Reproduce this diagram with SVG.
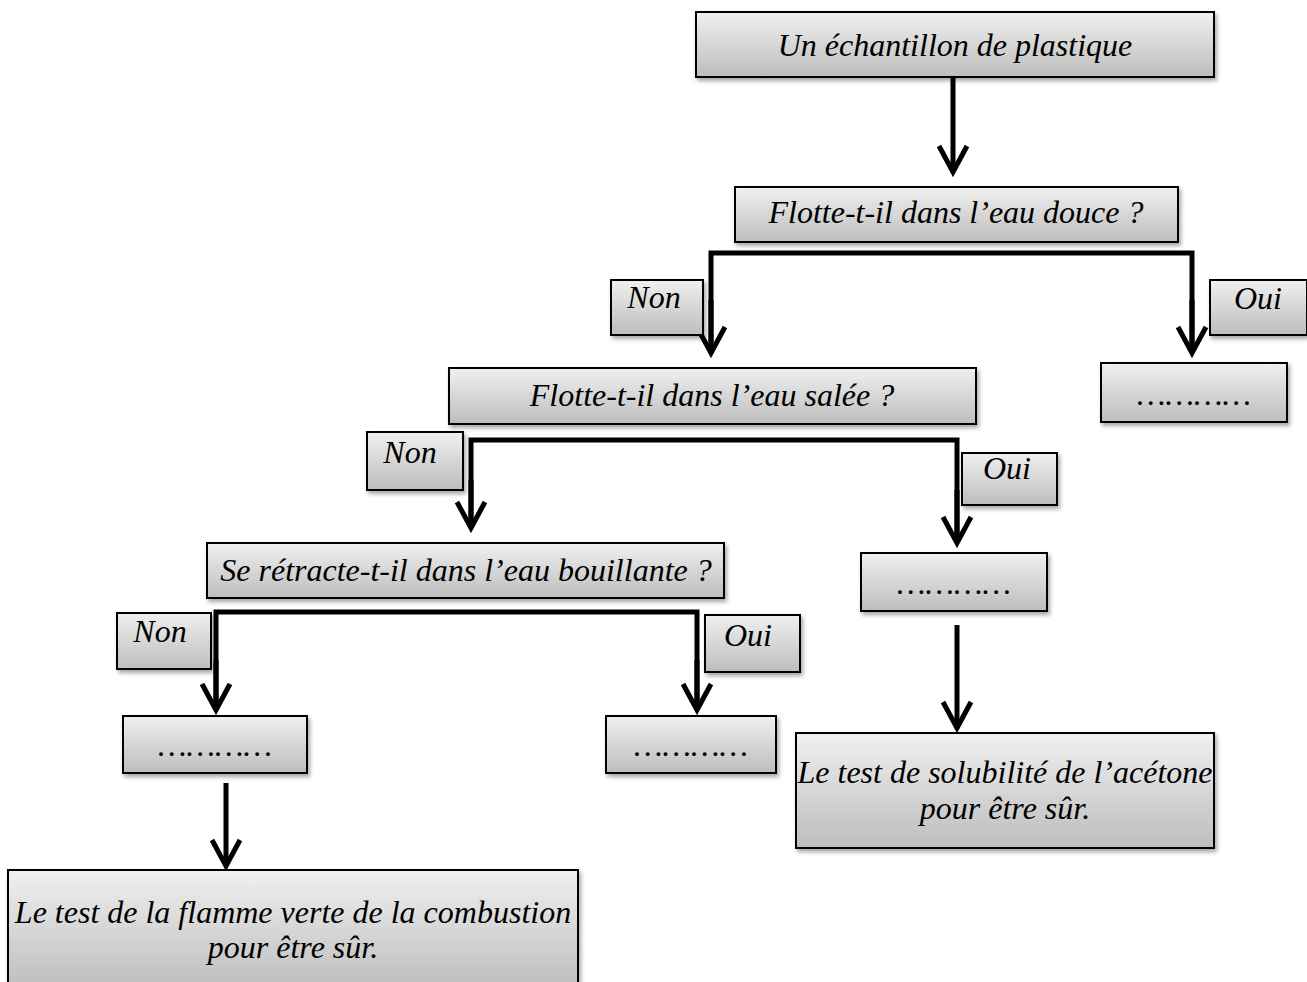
<svg xmlns="http://www.w3.org/2000/svg" width="1307" height="982" viewBox="0 0 1307 982">
<style>
.box{fill:url(#g);stroke:#000;stroke-width:2;filter:url(#sh)}
.t{font-family:'Liberation Serif',serif;font-style:italic;font-size:32px;fill:#000;text-anchor:middle}
.c{fill:none;stroke:#000;stroke-width:5}
</style>
<defs>
<linearGradient id="g" x1="0" y1="0" x2="0" y2="1">
<stop offset="0" stop-color="#f0f0f0"/>
<stop offset="1" stop-color="#bdbdbd"/>
</linearGradient>
<filter id="sh" x="-10%" y="-20%" width="130%" height="160%">
<feDropShadow dx="2" dy="3" stdDeviation="2" flood-color="#000" flood-opacity="0.35"/>
</filter>
<marker id="ah" markerUnits="userSpaceOnUse" markerWidth="40" markerHeight="40" refX="0" refY="0" orient="auto" overflow="visible">
<path d="M-26,-14 L0,0 L-26,14" fill="none" stroke="#000" stroke-width="5"/>
</marker>
</defs>
<rect width="1307" height="982" fill="#fff"/>
<g id="connectors">
<path class="c" d="M953,77 V172" marker-end="url(#ah)"/>
<path class="c" d="M711,353 V253 H1192 V353" />
<path class="c" d="M711,300 V353" marker-end="url(#ah)"/>
<path class="c" d="M1192,300 V353" marker-end="url(#ah)"/>
<path class="c" d="M471,528 V440 H957 V543"/>
<path class="c" d="M471,480 V528" marker-end="url(#ah)"/>
<path class="c" d="M957,490 V543" marker-end="url(#ah)"/>
<path class="c" d="M216,710 V612 H697 V710"/>
<path class="c" d="M216,660 V710" marker-end="url(#ah)"/>
<path class="c" d="M697,660 V710" marker-end="url(#ah)"/>
<path class="c" d="M957,625 V728" marker-end="url(#ah)"/>
<path class="c" d="M226,783 V866" marker-end="url(#ah)"/>
</g>
<g id="n-echantillon"><rect class="box" x="696" y="12" width="518" height="65"/><text class="t" x="955" y="56">Un échantillon de plastique</text></g>
<g id="n-douce"><rect class="box" x="735" y="187" width="443" height="55"/><text class="t" x="956" y="223">Flotte-t-il dans l’eau douce ?</text></g>
<g id="l-non1"><rect class="box" x="611" y="280" width="92" height="55"/><text class="t" x="654" y="308">Non</text></g>
<g id="l-oui1"><rect class="box" x="1210" y="280" width="97" height="55"/><text class="t" x="1258" y="309">Oui</text></g>
<g id="n-salee"><rect class="box" x="449" y="368" width="527" height="56"/><text class="t" x="712" y="406">Flotte-t-il dans l’eau salée ?</text></g>
<g id="n-dots1"><rect class="box" x="1101" y="363" width="186" height="59"/><text class="t" x="1194" y="405">…………</text></g>
<g id="l-non2"><rect class="box" x="367" y="432" width="96" height="58"/><text class="t" x="410" y="463">Non</text></g>
<g id="l-oui2"><rect class="box" x="962" y="453" width="95" height="52"/><text class="t" x="1007" y="479">Oui</text></g>
<g id="n-bouillante"><rect class="box" x="207" y="543" width="517" height="55"/><text class="t" x="466" y="581">Se rétracte-t-il dans l’eau bouillante ?</text></g>
<g id="n-dots2"><rect class="box" x="861" y="553" width="186" height="58"/><text class="t" x="954" y="594">…………</text></g>
<g id="l-non3"><rect class="box" x="117" y="613" width="94" height="56"/><text class="t" x="160" y="642">Non</text></g>
<g id="l-oui3"><rect class="box" x="705" y="615" width="95" height="57"/><text class="t" x="748" y="646">Oui</text></g>
<g id="n-dots3"><rect class="box" x="123" y="716" width="184" height="57"/><text class="t" x="215" y="756">…………</text></g>
<g id="n-dots4"><rect class="box" x="606" y="716" width="170" height="57"/><text class="t" x="691" y="756">…………</text></g>
<g id="n-acetone"><rect class="box" x="796" y="733" width="418" height="115"/><text class="t" x="1005" y="783">Le test de solubilité de l’acétone</text><text class="t" x="1005" y="819">pour être sûr.</text></g>
<g id="n-flamme"><rect class="box" x="8" y="870" width="570" height="120"/><text class="t" x="293" y="923">Le test de la flamme verte de la combustion</text><text class="t" x="293" y="958">pour être sûr.</text></g>
</svg>
